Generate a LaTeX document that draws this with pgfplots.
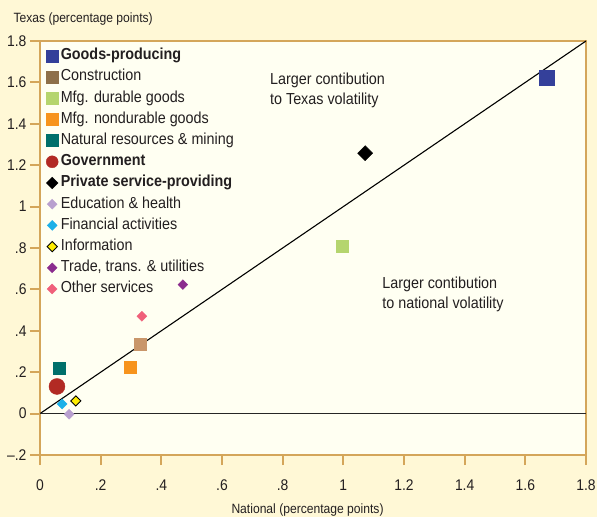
\documentclass[border=0pt]{standalone}
\usepackage{pgfplots}
\pgfplotsset{compat=1.18}
\usepackage{fontspec}
\setmainfont{Liberation Sans}[FakeStretch=0.9]
\usetikzlibrary{backgrounds}
\definecolor{outerbg}{HTML}{FFF8D6}
\definecolor{plotbg}{HTML}{FFFFF2}
\definecolor{tanc}{HTML}{D4A65A}
\definecolor{txt}{HTML}{231F20}
\definecolor{cgoods}{HTML}{34409A}
\definecolor{cconstrL}{HTML}{8E7049}
\definecolor{cconstr}{HTML}{C9966A}
\definecolor{cdur}{HTML}{B5D56E}
\definecolor{cnondur}{HTML}{F7941D}
\definecolor{cnat}{HTML}{00706B}
\definecolor{cgov}{HTML}{B22A24}
\definecolor{cedu}{HTML}{B9A0CF}
\definecolor{cfin}{HTML}{1CB0E8}
\definecolor{cinfo}{HTML}{FFED00}
\definecolor{ctrade}{HTML}{8B2C8E}
\definecolor{cother}{HTML}{F0607A}
\begin{document}
\begin{tikzpicture}
\begin{axis}[
  at={(40bp,62bp)}, anchor=south west,
  scale only axis, width=546bp, height=414bp,
  xmin=0, xmax=1.8, ymin=-0.2, ymax=1.8,
  axis background/.style={fill=plotbg},
  axis line style={draw=tanc, line width=2bp},
  xtick={0,0.2,0.4,0.6,0.8,1,1.2,1.4,1.6,1.8},
  xticklabels={0,.2,.4,.6,.8,1,1.2,1.4,1.6,1.8},
  ytick={-0.2,0,0.2,0.4,0.6,0.8,1,1.2,1.4,1.6,1.8},
  yticklabels={--.2,0,.2,.4,.6,.8,1,1.2,1.4,1.6,1.8},
  xtick pos=bottom, ytick pos=left,
  tick align=outside, major tick length=10bp,
  tick style={draw=tanc, line width=2bp},
  ticklabel style={font=\fontsize{15.5}{18}\selectfont, text=txt},
  xticklabel style={yshift=-11bp},
  xlabel={National (percentage points)},
  xlabel style={font=\fontsize{13.5}{16}\selectfont, text=txt, at={(axis description cs:0.49,0)}, anchor=base, yshift=-58bp},
  ylabel={Texas (percentage points)},
  ylabel style={font=\fontsize{13.5}{16}\selectfont, text=txt, rotate=-90, at={(axis description cs:0,1)}, anchor=base west, xshift=-30bp, yshift=18bp},
  legend cell align=left,
  legend image code/.code={\draw[#1] plot coordinates {(0bp,0bp)};},
  legend style={at={(axis description cs:0,1)}, anchor=north west, xshift=6bp, yshift=-4bp,
    draw=none, fill=none, inner sep=0pt, row sep=0pt,
    font=\fontsize{16}{19}\selectfont, text=txt,
    nodes={inner sep=2.6bp, text height=12bp, text depth=4bp}},
]
% reference lines
\addplot[black, line width=1.1bp, forget plot] coordinates {(0,0) (1.8,1.8)};
\addplot[black!85, line width=1.2bp, forget plot] coordinates {(0,0) (1.8,0)};
% data
\addplot[only marks, mark=square*, mark size=7.5bp, draw=cgoods, fill=cgoods, forget plot] coordinates {(1.67,1.625)};
\addplot[only marks, mark=square*, mark size=6bp, draw=cconstr, fill=cconstr, forget plot] coordinates {(0.33,0.336)};
\addplot[only marks, mark=square*, mark size=6bp, draw=cdur, fill=cdur, forget plot] coordinates {(0.996,0.81)};
\addplot[only marks, mark=square*, mark size=6bp, draw=cnondur, fill=cnondur, forget plot] coordinates {(0.297,0.225)};
\addplot[only marks, mark=square*, mark size=6bp, draw=cnat, fill=cnat, forget plot] coordinates {(0.063,0.22)};
\addplot[only marks, mark=*, mark size=8bp, draw=cgov, fill=cgov, forget plot] coordinates {(0.056,0.131)};
\addplot[only marks, mark=square*, mark size=5.3bp, mark options={rotate=45}, draw=black, fill=black, forget plot] coordinates {(1.072,1.258)};
\addplot[only marks, mark=square*, mark size=3.5bp, mark options={rotate=45}, draw=cedu, fill=cedu, forget plot] coordinates {(0.096,-0.003)};
\addplot[only marks, mark=square*, mark size=3.5bp, mark options={rotate=45}, draw=cfin, fill=cfin, forget plot] coordinates {(0.073,0.046)};
\addplot[only marks, mark=square*, mark size=3.6bp, mark options={rotate=45, line width=0.9bp}, draw=black, fill=cinfo, forget plot] coordinates {(0.118,0.061)};
\addplot[only marks, mark=square*, mark size=3.5bp, mark options={rotate=45}, draw=ctrade, fill=ctrade, forget plot] coordinates {(0.471,0.623)};
\addplot[only marks, mark=square*, mark size=3.5bp, mark options={rotate=45}, draw=cother, fill=cother, forget plot] coordinates {(0.336,0.47)};
% legend
\addlegendimage{only marks, mark=square*, mark size=6bp, draw=cgoods, fill=cgoods}
\addlegendentry{\textbf{Goods-producing}}
\addlegendimage{only marks, mark=square*, mark size=6bp, draw=cconstrL, fill=cconstrL}
\addlegendentry{Construction}
\addlegendimage{only marks, mark=square*, mark size=6bp, draw=cdur, fill=cdur}
\addlegendentry{Mfg. durable goods}
\addlegendimage{only marks, mark=square*, mark size=6bp, draw=cnondur, fill=cnondur}
\addlegendentry{Mfg. nondurable goods}
\addlegendimage{only marks, mark=square*, mark size=6bp, draw=cnat, fill=cnat}
\addlegendentry{Natural resources \& mining}
\addlegendimage{only marks, mark=*, mark size=6bp, draw=cgov, fill=cgov}
\addlegendentry{\textbf{Government}}
\addlegendimage{only marks, mark=square*, mark size=4.1bp, mark options={rotate=45}, draw=black, fill=black}
\addlegendentry{\textbf{Private service-providing}}
\addlegendimage{only marks, mark=square*, mark size=3.5bp, mark options={rotate=45}, draw=cedu, fill=cedu}
\addlegendentry{Education \& health}
\addlegendimage{only marks, mark=square*, mark size=3.5bp, mark options={rotate=45}, draw=cfin, fill=cfin}
\addlegendentry{Financial activities}
\addlegendimage{only marks, mark=square*, mark size=3.6bp, mark options={rotate=45, line width=0.9bp}, draw=black, fill=cinfo}
\addlegendentry{Information}
\addlegendimage{only marks, mark=square*, mark size=3.5bp, mark options={rotate=45}, draw=ctrade, fill=ctrade}
\addlegendentry{Trade, trans. \& utilities}
\addlegendimage{only marks, mark=square*, mark size=3.5bp, mark options={rotate=45}, draw=cother, fill=cother}
\addlegendentry{Other services}
% annotations
\node[anchor=north west, align=left, font=\fontsize{16}{19.5}\selectfont, text=txt, inner sep=0pt] at (axis cs:0.758,1.645) {Larger contibution\\to Texas volatility};
\node[anchor=north west, align=left, font=\fontsize{16}{19.5}\selectfont, text=txt, inner sep=0pt] at (axis cs:1.128,0.66) {Larger contibution\\to national volatility};
\end{axis}
\begin{scope}[on background layer]
\fill[outerbg] (0,0) rectangle (597bp,517bp);
\end{scope}
\pgfresetboundingbox
\useasboundingbox (0,0) rectangle (597bp,517bp);
\end{tikzpicture}
\end{document}
